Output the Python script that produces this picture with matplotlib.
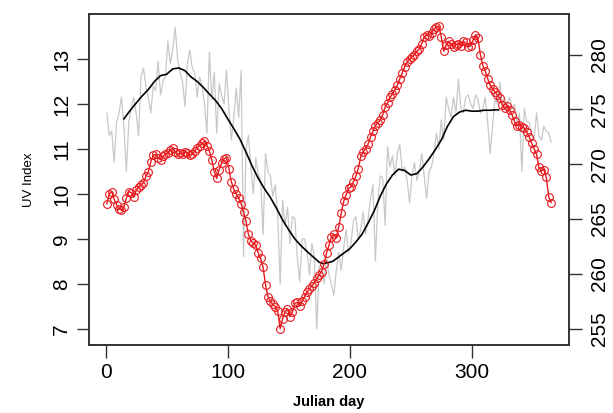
import numpy as np
import matplotlib
matplotlib.use("Agg")
import matplotlib.pyplot as plt

plt.rcParams['font.family'] = ['Liberation Sans', 'DejaVu Sans']

# days sampled every second day
days = np.arange(1, 366, 2)

# daily UV index (grey, left axis)
uv_daily = [
    11.8, 11.3, 11.4, 10.7, 11.6, 11.8, 12.15, 11.5, 10.5, 11.6,
    11.9, 12.15, 11.8, 11.3, 12.6, 12.8, 12.4, 12.15, 11.8, 12.4,
    12.3, 12.95, 12.2, 12.5, 12.6, 13.4, 12.9, 13.2, 13.7, 13.0,
    12.7, 12.5, 11.95, 12.9, 13.2, 12.8, 12.7, 12.15, 12.6, 12.4,
    12.0, 11.35, 13.15, 12.1, 12.7, 11.35, 12.45, 12.2, 12.0, 12.75,
    11.9, 11.2, 11.7, 12.35, 11.7, 12.75, 8.6, 11.0, 11.3, 10.6,
    10.0, 10.8, 10.45, 10.3, 9.1, 10.9, 10.5, 10.4, 9.95, 10.2,
    9.5, 8.0, 9.85, 9.3, 9.7, 8.9, 9.5, 9.45, 8.6, 8.05,
    9.0, 9.0, 8.7, 8.2, 8.9, 8.6, 7.0, 8.4, 8.4, 8.0,
    8.6, 8.2, 7.98, 7.75, 8.3, 8.7, 8.3, 8.8, 9.2, 8.7,
    8.9, 9.4, 9.5, 9.0, 9.2, 9.6, 9.1, 9.45, 9.9, 10.2,
    8.5, 9.8, 10.4, 10.35, 9.3, 11.05, 10.6, 10.85, 10.4, 10.9,
    11.1, 10.5, 10.6, 10.3, 9.8, 10.4, 10.7, 10.3, 10.5, 10.9,
    10.4, 9.9, 10.5, 10.6, 10.9, 11.35, 11.0, 11.65, 11.2, 12.15,
    11.9, 11.7, 12.15, 11.8, 12.55, 11.9, 11.8, 12.15, 12.2, 12.0,
    11.9, 12.2, 12.1, 11.8, 11.9, 12.15, 11.6, 10.9, 11.5, 12.1,
    12.0, 12.5, 11.9, 12.1, 12.0, 12.15, 11.9, 12.0, 11.6, 11.8,
    10.5, 11.9, 11.6, 11.6, 11.3, 11.2, 11.8, 11.3, 11.2, 11.5,
    11.4, 11.35, 11.15,
]

# red series (right axis)
red_vals = [
    266.4, 267.3, 267.5, 266.8, 266.3, 265.9, 265.8, 266.1, 266.9, 267.5,
    267.4, 267.0, 267.6, 267.9, 268.1, 268.3, 268.9, 269.3, 270.2, 270.8,
    270.9, 270.6, 270.4, 270.7, 270.9, 271.0, 271.3, 271.5, 271.1, 270.9,
    271.0, 270.9, 271.1, 271.0, 270.8, 270.9, 271.2, 271.5, 271.7, 271.9,
    272.1, 271.7, 271.2, 270.4, 269.3, 268.7, 269.5, 270.1, 270.5, 270.6,
    269.6, 268.4, 267.7, 267.3, 266.9, 266.4, 265.6, 264.8, 263.6, 263.0,
    262.8, 262.6, 261.9, 261.4, 260.6, 259.0, 257.9, 257.5, 257.2, 257.0,
    256.6, 255.0, 255.9, 256.5, 256.8, 256.1, 256.5, 257.3, 257.4, 257.1,
    257.5, 257.9, 258.3, 258.6, 258.9, 259.2, 259.6, 259.9, 260.2, 260.9,
    261.9, 262.6, 263.4, 263.6, 263.3, 264.3, 265.5, 266.6, 267.2, 267.8,
    267.9, 268.4, 268.9, 269.6, 270.7, 271.1, 271.4, 271.8, 272.5, 273.0,
    273.5, 273.8, 274.0, 274.5, 275.2, 275.6, 276.1, 276.4, 276.8, 277.2,
    277.8, 278.3, 278.9, 279.3, 279.6, 279.8, 280.0, 280.3, 280.5, 281.0,
    281.6, 281.8, 281.7, 282.0, 282.3, 282.5, 282.6, 281.6, 280.3, 280.9,
    281.2, 281.0, 280.7, 280.9, 281.0, 280.8, 281.2, 281.1, 280.7, 280.8,
    281.3, 281.8, 281.5, 280.0, 279.0, 278.5, 277.8, 277.2, 276.9, 276.6,
    276.3, 276.0, 275.4, 275.1, 275.3, 274.9, 274.5, 273.9, 273.5, 273.6,
    273.4, 273.3, 272.9, 272.5, 271.9, 271.4, 270.9, 269.7, 269.4, 269.5,
    268.8, 267.0, 266.5,
]

# running mean of UV index (black)
smooth_days = [15, 20, 25, 30, 35, 40, 45, 50, 55, 60, 65, 70, 75, 80, 85,
               90, 95, 100, 105, 110, 115, 120, 125, 130, 135, 140, 145, 150,
               155, 160, 165, 170, 175, 178, 182, 186, 190, 195, 200, 205,
               210, 215, 220, 225, 230, 235, 240, 245, 250, 255, 260, 265,
               270, 275, 280, 285, 290, 295, 300, 305, 310, 315, 320, 322]
smooth_vals = [11.67, 11.85, 12.02, 12.18, 12.32, 12.5, 12.63, 12.66, 12.78,
               12.8, 12.74, 12.6, 12.5, 12.37, 12.22, 12.08, 11.9, 11.67,
               11.45, 11.22, 10.93, 10.62, 10.35, 10.12, 9.92, 9.68, 9.42,
               9.2, 9.0, 8.85, 8.72, 8.6, 8.48, 8.45, 8.47, 8.5, 8.58, 8.68,
               8.78, 8.93, 9.1, 9.35, 9.62, 9.95, 10.22, 10.42, 10.55, 10.52,
               10.42, 10.45, 10.6, 10.78, 10.98, 11.2, 11.5, 11.72, 11.82,
               11.86, 11.84, 11.84, 11.86, 11.86, 11.87, 11.87]

fig = plt.figure(figsize=(6.13, 4.13), dpi=100)
ax = fig.add_axes([0.1452, 0.1646, 0.7830, 0.8015])

ax.plot(days, uv_daily, color='#c8c8c8', lw=0.9)
ax.plot(smooth_days, smooth_vals, color='black', lw=1.2)
ax.set_xlim(-13.6, 379.6)
ax.set_ylim(6.64, 14.0)
ax.set_yticks([7, 8, 9, 10, 11, 12, 13])
ax.set_xticks([0, 100, 200, 300])
ax.set_ylabel('UV Index', fontsize=9.5, labelpad=12)
ax.set_xlabel('Julian day', fontsize=10.5, fontweight='bold', labelpad=9)

ax2 = ax.twinx()
ax2.plot(days, red_vals, color='#e8191c', lw=1.0, marker='o', ms=5.6,
         mfc='none', mec='#e8191c', mew=0.8)
ax2.set_ylim(253.5, 283.7)
ax2.set_yticks([255, 260, 265, 270, 275, 280])

for a in (ax, ax2):
    for s in a.spines.values():
        s.set_color('#333333')
        s.set_linewidth(1.2)
    a.tick_params(length=9, width=1.0, color='#333333', labelsize=15,
                  pad=4)
ax2.tick_params(axis='y', pad=6)
for lab in ax.get_yticklabels():
    lab.set_rotation(90)
    lab.set_va('center')
for lab in ax2.get_yticklabels():
    lab.set_rotation(90)
    lab.set_va('center')

fig.savefig('out.png', dpi=100)
